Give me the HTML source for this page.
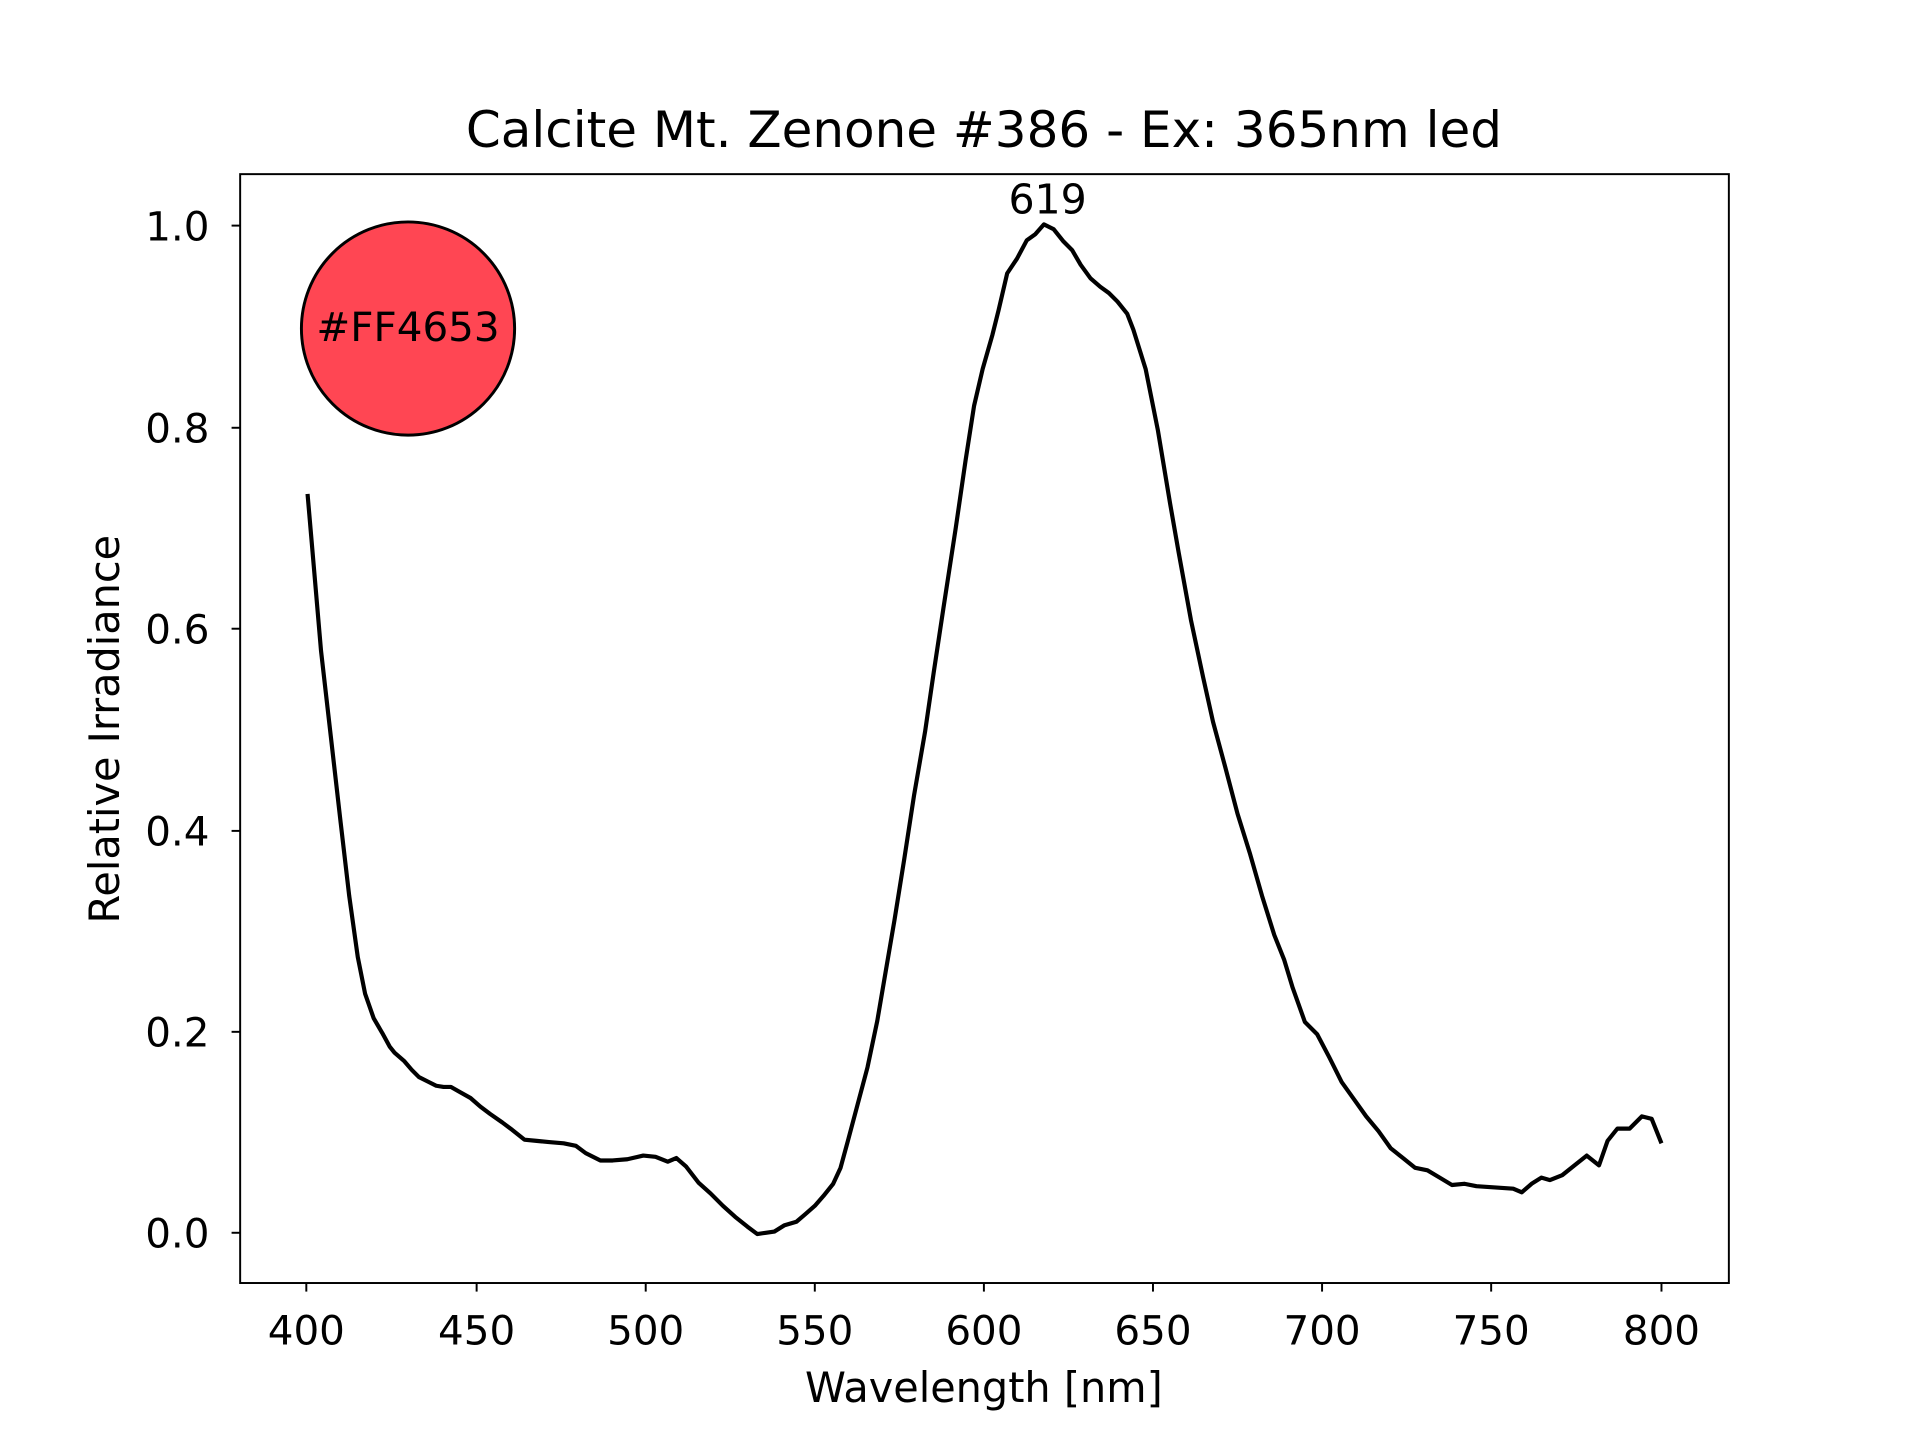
<!DOCTYPE html>
<html><head><meta charset="utf-8"><style>
html,body{margin:0;padding:0;background:#fff}
svg{display:block}
text{font-family:"DejaVu Sans","Liberation Sans",sans-serif;fill:#000}
</style></head><body>
<svg width="1920" height="1440" viewBox="0 0 1567 1173" xmlns="http://www.w3.org/2000/svg">
<rect x="0" y="0" width="1567" height="1173" fill="#fff"/>
<text x="803" y="119" font-size="40.8" text-anchor="middle">Calcite Mt. Zenone #386 - Ex: 365nm led</text>
<g stroke="#000" stroke-width="1.6">
<line x1="250" y1="1046" x2="250" y2="1053"/><line x1="389" y1="1046" x2="389" y2="1053"/>
<line x1="527" y1="1046" x2="527" y2="1053"/><line x1="665" y1="1046" x2="665" y2="1053"/>
<line x1="803" y1="1046" x2="803" y2="1053"/><line x1="941" y1="1046" x2="941" y2="1053"/>
<line x1="1079" y1="1046" x2="1079" y2="1053"/><line x1="1217" y1="1046" x2="1217" y2="1053"/>
<line x1="1356" y1="1046" x2="1356" y2="1053"/>
<line x1="189" y1="1005" x2="196" y2="1005"/><line x1="189" y1="841" x2="196" y2="841"/>
<line x1="189" y1="677" x2="196" y2="677"/><line x1="189" y1="512" x2="196" y2="512"/>
<line x1="189" y1="348" x2="196" y2="348"/><line x1="189" y1="183" x2="196" y2="183"/>
</g>
<g font-size="33" text-anchor="middle">
<text x="250" y="1096">400</text><text x="389" y="1096">450</text><text x="527" y="1096">500</text>
<text x="665" y="1096">550</text><text x="803" y="1096">600</text><text x="941" y="1096">650</text>
<text x="1079" y="1096">700</text><text x="1217" y="1096">750</text><text x="1356" y="1096">800</text>
</g>
<g font-size="33" text-anchor="end">
<text x="171" y="1017">0.0</text><text x="171" y="853">0.2</text><text x="171" y="689">0.4</text>
<text x="171" y="524">0.6</text><text x="171" y="360">0.8</text><text x="171" y="195">1.0</text>
</g>
<text x="803" y="1143" font-size="33.8" text-anchor="middle">Wavelength [nm]</text>
<text transform="translate(97,594) rotate(-90)" font-size="33.8" text-anchor="middle">Relative Irradiance</text>
<circle cx="333" cy="267" r="87" fill="#FF4653" stroke="#000" stroke-width="2.4"/>
<text x="333" y="277" font-size="33" text-anchor="middle">#FF4653</text>
<text x="855" y="173" font-size="33.5" text-anchor="middle">619</text>
<polyline fill="none" stroke="#000" stroke-width="3.4" stroke-linejoin="round" points="251,402 256,460 262,530 270,600 278,670 285,730 292,780 298,810 305,830 312,842 318,853 322,858 330,865 336,872 342,878 350,882 356,885 362,886 368,886 375,890 384,895 392,902 400,908 410,915 418,921 428,929 438,930 448,931 460,932 470,934 478,940 490,946 500,946 512,945 525,942 535,943 545,947 552,944 560,951 570,964 580,973 590,983 600,992 610,1000 618,1006 625,1005 632,1004 640,999 650,996 657,990 665,983 672,975 680,965 686,952 692,930 700,900 708,870 716,832 724,785 730,750 738,700 746,648 755,596 762,548 770,495 780,430 788,375 795,330 802,300 810,272 815,252 822,222 830,210 838,195 845,190 852,182 860,186 868,196 875,203 882,215 890,226 898,233 905,238 912,245 920,255 925,268 935,300 945,350 955,410 962,450 972,505 982,552 990,588 1000,625 1010,663 1020,695 1030,730 1040,762 1048,782 1055,805 1065,833 1075,843 1085,862 1095,882 1105,896 1115,910 1125,922 1135,936 1145,944 1155,952 1165,954 1175,960 1185,966 1195,965 1205,967 1220,968 1235,969 1242,972 1250,965 1258,960 1265,962 1275,958 1285,950 1295,942 1305,950 1312,930 1320,920 1330,920 1340,910 1348,912 1356,932"/>
<rect x="196" y="141" width="1215" height="905" fill="none" stroke="#000" stroke-width="1.6"/>
</svg>
</body></html>
